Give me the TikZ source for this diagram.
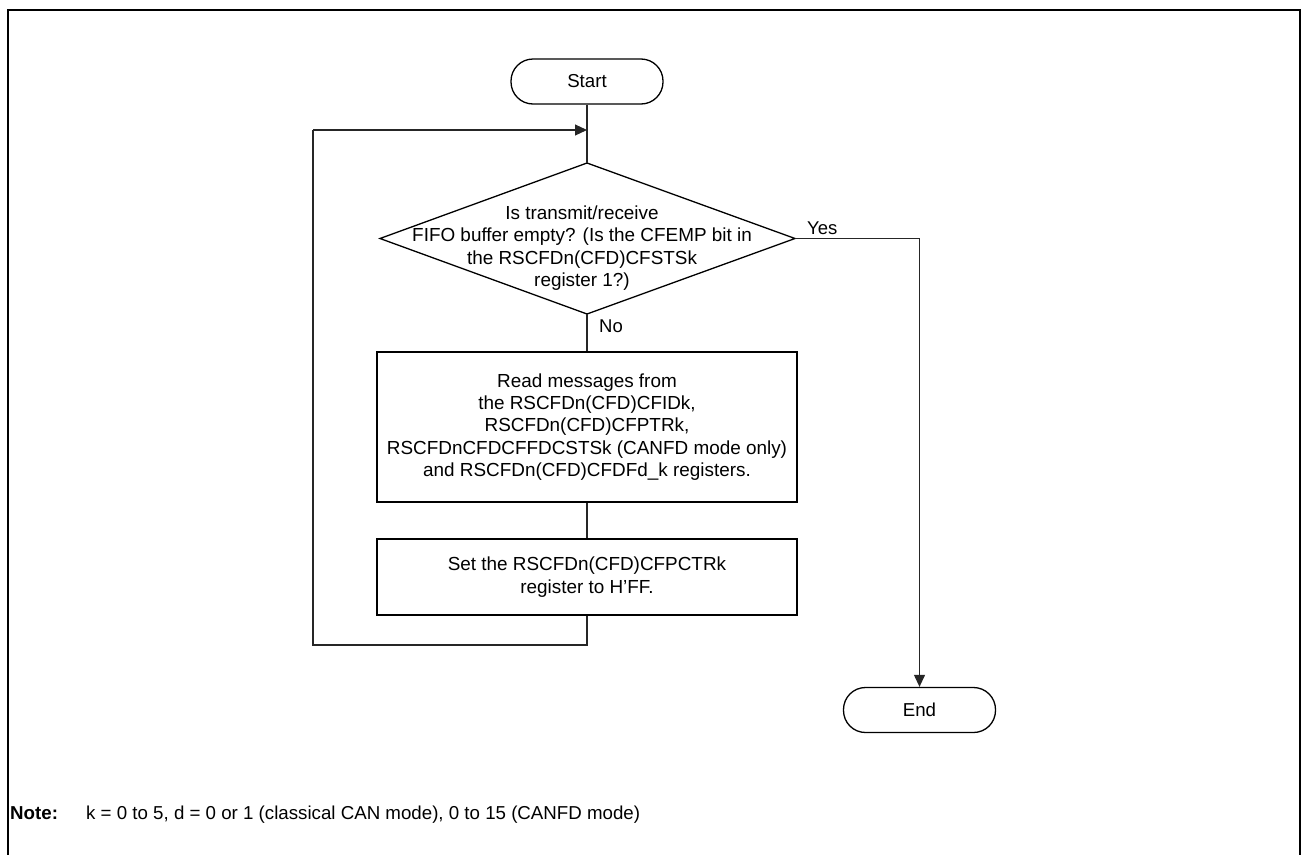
\documentclass[tikz,border=0pt]{standalone}
\usepackage{fontspec}
\setmainfont{Liberation Sans}
\usetikzlibrary{arrows.meta,shapes.geometric}
\tikzset{
  flow/.style={line width=1.1pt, draw=black!85},
  term/.style={draw=black, line width=1.3pt, rounded corners=22pt, minimum width=152pt, minimum height=45pt, font=\fontsize{18.7}{22}\selectfont, inner sep=0pt},
  procbox/.style={draw=black, line width=1.5pt, minimum width=420pt, align=center, font=\fontsize{18.9}{22.3}\selectfont, inner sep=0pt},
  lbl/.style={font=\fontsize{18.5}{22}\selectfont, inner sep=0pt},
  notelbl/.style={font=\fontsize{18.7}{22}\selectfont, inner sep=0pt},
  arr/.style={flow, -{Triangle[length=12pt,width=11pt]}}
}
\begin{document}
\begin{tikzpicture}[x=1pt,y=-1pt]
\useasboundingbox (0,0) rectangle (1303,854);
% frame
\draw[line width=2.4pt] (8,856) -- (8,10) -- (1300,10) -- (1300,856);
% nodes
\node[term] (start) at (587,81.5) {Start};
\node[term] (end) at (919.5,710) {End};
\coordinate (dtop) at (587,163);
\coordinate (dbot) at (587,314);
\coordinate (dleft) at (380,238.5);
\coordinate (dright) at (795,238.5);
\draw[line width=1.3pt, draw=black, line join=miter] (dtop) -- (dright) -- (dbot) -- (dleft) -- cycle;
\node[lbl, align=center, font=\fontsize{18.9}{22.3}\selectfont] (dtext) at (582,248) {Is transmit/receive\\FIFO buffer empty? (Is the CFEMP bit in\\the RSCFDn(CFD)CFSTSk\\register 1?)};
\node[procbox, minimum height=150pt] (read) at (587,427) {Read messages from\\the RSCFDn(CFD)CFIDk,\\RSCFDn(CFD)CFPTRk,\\RSCFDnCFDCFFDCSTSk (CANFD mode only)\\and RSCFDn(CFD)CFDFd\_k registers.};
\node[procbox, minimum height=76pt] (set) at (587,577) {Set the RSCFDn(CFD)CFPCTRk\\register to H'FF.};
\coordinate (loopin) at (587,130);
\coordinate (loopbot) at (587,645);
\coordinate (loopbl) at (313,645);
\coordinate (looptl) at (313,130);
\coordinate (yescorner) at (919.5,238.5);
% connectors
\draw[flow] (start.south) -- (dtop);
\draw[flow] (dbot) -- (read.north);
\draw[flow] (read.south) -- (set.north);
\draw[flow] (set.south) -- (loopbot) -- (loopbl) -- (looptl);
\draw[arr] (looptl) -- (loopin);
\draw[flow] (dright) -- (yescorner);
\draw[arr] (yescorner) -- (end.north);
% labels
\node[lbl, anchor=west] (yes) at (807,228) {Yes};
\node[lbl, anchor=west] (no) at (599,326) {No};
\node[notelbl, anchor=base west] (note) at (10,819) {\textbf{Note:}};
\node[notelbl, anchor=base west] (notetext) at (86,819) {k = 0 to 5, d = 0 or 1 (classical CAN mode), 0 to 15 (CANFD mode)};
\end{tikzpicture}
\end{document}
